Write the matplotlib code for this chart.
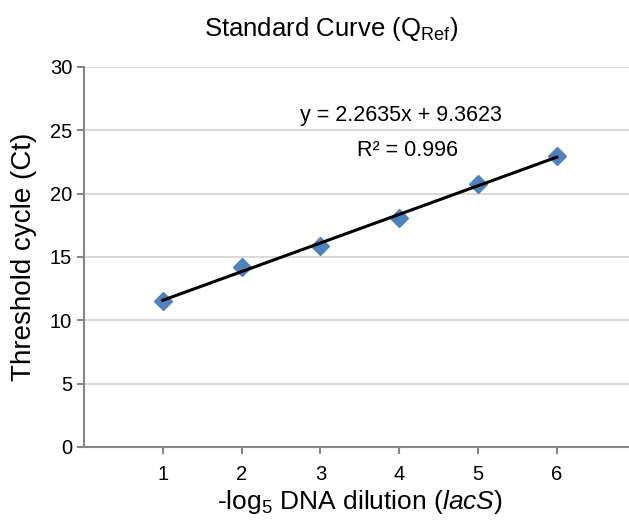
import numpy as np
import matplotlib
matplotlib.use("Agg")
import matplotlib.pyplot as plt

plt.rcParams["font.family"] = ["Liberation Sans", "DejaVu Sans"]
plt.rcParams["mathtext.fontset"] = "custom"
plt.rcParams["mathtext.rm"] = "Liberation Sans"
plt.rcParams["mathtext.it"] = "Liberation Sans:italic"

dilution = [1, 2, 3, 4, 5, 6]
ct = [11.55, 14.2, 15.85, 18.05, 20.75, 23.0]
y_ticks = [0, 5, 10, 15, 20, 25, 30]
equation = "y = 2.2635x + 9.3623"
r_squared = "R² = 0.996"

fig = plt.figure(figsize=(6.29, 5.2), dpi=100)
ax = fig.add_axes([0.1335, 0.1404, 0.877, 0.7308])

# trendline from a linear fit of the points
slope, intercept = np.polyfit(dilution, ct, 1)
xs = np.array([dilution[0], dilution[-1]])
ax.plot(xs, slope * xs + intercept, color="black", lw=2.2, zorder=3)
ax.plot(dilution, ct, linestyle="none", marker="D", markersize=9,
        color="#4F81BD", zorder=2, clip_on=False)

ax.set_xlim(0, 7)
ax.set_ylim(0, 30)
ax.set_yticks(y_ticks)
ax.set_xticks(dilution)
ax.grid(axis="y", color="#D9D9D9", lw=1.5)
ax.set_axisbelow(True)

for side in ["top", "right"]:
    ax.spines[side].set_visible(False)
for side in ["left", "bottom"]:
    ax.spines[side].set_color("#868686")
    ax.spines[side].set_linewidth(1.5)
ax.tick_params(colors="#868686", labelcolor="black", width=1.5, length=5,
               labelsize=14.5)
ax.tick_params(axis="x", pad=8)

ax.set_ylabel("Threshold cycle (Ct)", fontsize=20, labelpad=9)
ax.set_xlabel("-log$_\\mathregular{5}$ DNA dilution ($\\mathit{lacS}$)",
              fontsize=19, labelpad=3)
fig.text(0.527, 0.945, "Standard Curve (Q$_\\mathregular{Ref}$)",
         fontsize=18.5, ha="center", va="center")

ax.text(4.02, 26.2, equation, fontsize=15.5, ha="center", va="center")
ax.text(4.1, 23.4, r_squared, fontsize=15.5, ha="center", va="center")

fig.savefig("out.png", dpi=100)
